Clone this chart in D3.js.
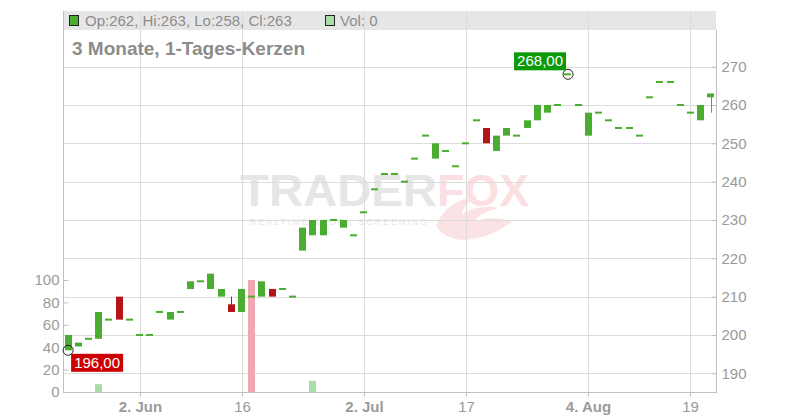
<!DOCTYPE html>
<html><head><meta charset="utf-8">
<script src="https://cdn.jsdelivr.net/npm/d3@7"></script>
<style>body{margin:0;background:#fff}svg{display:block;font-family:"Liberation Sans",Arial,sans-serif}</style>
</head><body><svg id="c" width="800" height="420"></svg>
<script>
const dates = ["2025-05-22","2025-05-23","2025-05-26","2025-05-27","2025-05-28","2025-05-29","2025-05-30",
"2025-06-02","2025-06-03","2025-06-04","2025-06-05","2025-06-06","2025-06-09","2025-06-10","2025-06-11","2025-06-12","2025-06-13",
"2025-06-16","2025-06-17","2025-06-18","2025-06-19","2025-06-20","2025-06-23","2025-06-24","2025-06-25","2025-06-26","2025-06-27",
"2025-06-30","2025-07-01","2025-07-02","2025-07-03","2025-07-04","2025-07-07","2025-07-08","2025-07-09","2025-07-10","2025-07-11",
"2025-07-14","2025-07-15","2025-07-17","2025-07-18","2025-07-21","2025-07-22","2025-07-23","2025-07-24","2025-07-25",
"2025-07-28","2025-07-29","2025-07-30","2025-07-31","2025-08-01","2025-08-04","2025-08-05","2025-08-06","2025-08-07","2025-08-08",
"2025-08-11","2025-08-12","2025-08-13","2025-08-14","2025-08-18","2025-08-19","2025-08-20","2025-08-21"];
const opens  = [196,197,199,199,204,210,204,200,200,206,204,206,212,214,212,210,208,206,210,210,212,212,210,222,226,226,230,228,226,232,238,242,242,240,246,252,246,248,244,250,256,254,248,252,252,254,256,258,260,268,260,252,258,256,254,254,252,262,266,266,260,258,256,262];
const closes = [200,198,199,206,204,204,204,200,200,206,206,206,214,214,216,212,206,212,210,214,210,212,210,228,230,230,230,230,226,232,238,242,242,240,246,252,250,248,244,250,256,250,252,254,252,256,260,260,260,268,260,258,258,256,254,254,252,262,266,266,260,258,260,263];
const highs  = [200,198,199,206,204,210,204,200,200,206,206,206,214,214,216,212,210,212,210,214,212,212,210,228,230,230,230,230,226,232,238,242,242,240,246,252,250,248,244,250,256,254,252,254,252,256,260,260,260,268,260,258,258,256,254,254,252,262,266,266,260,258,260,263];
const lows   = [196,197,199,199,204,204,204,200,200,206,204,206,212,214,212,210,206,206,210,210,210,212,210,222,226,226,230,228,226,232,238,242,242,240,246,252,246,248,244,250,256,250,248,252,252,254,256,258,260,268,260,252,258,256,254,254,252,262,266,266,260,258,256,258];
const volumes= [0,0,0,7,0,0,0,0,0,0,0,0,0,0,0,0,0,0,100,0,0,0,0,0,10,0,0,0,0,0,0,0,0,0,0,0,0,0,0,0,0,0,0,0,0,0,0,0,0,0,0,0,0,0,0,0,0,0,0,0,0,0,0,0];
const tickDates  = ["2025-06-02","2025-06-16","2025-07-02","2025-07-17","2025-08-04","2025-08-19"];
const tickLabels = ["2. Jun","16","2. Jul","17","4. Aug","19"];
const tickBold   = [true,false,true,false,true,false];
const priceTicks = [190,200,210,220,230,240,250,260,270];
const volTicks   = [0,20,40,60,80,100];
const headerText = "Op:262, Hi:263, Lo:258, Cl:263";
const volText = "Vol: 0";
const titleText = "3 Monate, 1-Tages-Kerzen";
const maxLabel = "268,00", minLabel = "196,00";

const L = 63, R = 716, T = 30, B = 392, HT = 11;
const svg = d3.select("#c");
const x = d3.scaleBand().domain(dates).range([L, R]).paddingInner(0.3).paddingOuter(0.15);
const y = d3.scaleLinear().domain([185.12, 279.56]).range([B, T]);
const yv = d3.scaleLinear().domain([0, 100]).range([B, 280]);
const bw = x.bandwidth();
const cx = d => x(d) + bw / 2;
const GREEN = "#4aad31", RED = "#b51419", GRID = "#dcdcdc", AX = "#c0c0c0", TXT = "#9a9a9a";

// header band
svg.append("rect").attr("x", L).attr("y", HT).attr("width", R - L).attr("height", T - HT).attr("fill", "#e6e6e6");

// watermark
const wm = svg.append("g");
wm.append("text").attr("x", 240).attr("y", 206).attr("font-weight", "bold")
  .attr("font-size", 44).attr("textLength", 197).attr("lengthAdjust", "spacingAndGlyphs").attr("fill", "#e6e6e6").text("TRADER");
wm.append("text").attr("x", 437).attr("y", 206).attr("font-weight", "bold")
  .attr("font-size", 44).attr("textLength", 92).attr("lengthAdjust", "spacingAndGlyphs").attr("fill", "#fcdfe2").text("FOX");
wm.append("path").attr("d", "M436,226 Q446,200 478,196 Q462,206 462,214 Q478,204 500,208 Q480,212 474,222 Q492,214 512,222 Q490,238 466,240 Q446,240 436,226 Z")
  .attr("fill", "#fbe3e5");
wm.append("text").attr("x", 250).attr("y", 224.5).attr("font-size", 9).attr("textLength", 177).attr("lengthAdjust", "spacing")
  .attr("fill", "#e6e6e6").text("REALTIME STOCK SCREENING");

// grid
const px = v => Math.round(v) + 0.5;
svg.append("g").selectAll("line").data(priceTicks).join("line")
  .attr("x1", L).attr("x2", R).attr("y1", d => px(y(d))).attr("y2", d => px(y(d))).attr("stroke", GRID);
svg.append("g").selectAll("line").data(tickDates).join("line")
  .attr("x1", d => px(cx(d))).attr("x2", d => px(cx(d))).attr("y1", HT).attr("y2", B).attr("stroke", GRID);

// axes
const ax = svg.append("g").attr("font-family", "'Liberation Sans',Arial,sans-serif");
const gR = ax.append("g").attr("transform", `translate(${R + 0.5},0)`)
  .call(d3.axisRight(y).tickValues(priceTicks).tickSize(-5).tickPadding(5).tickSizeOuter(0));
const gL = ax.append("g").attr("transform", `translate(${L + 0.5},0)`)
  .call(d3.axisLeft(yv).tickValues(volTicks).tickSize(-5).tickPadding(4).tickSizeOuter(0));
const gB = ax.append("g").attr("transform", `translate(0,${B + 0.5})`)
  .call(d3.axisBottom(x).tickValues(tickDates).tickFormat((d, i) => tickLabels[i]).tickSize(4).tickPadding(5).tickSizeOuter(0));
[gR, gL, gB].forEach(g => {
  g.select(".domain").remove();
  g.selectAll(".tick line").attr("stroke", AX);
  g.selectAll(".tick text").attr("fill", TXT).attr("font-size", 15);
});
gB.selectAll(".tick").attr("transform", d => `translate(${px(cx(d))},0)`);
gB.selectAll(".tick text").attr("font-weight", (d, i) => tickBold[i] ? "bold" : "normal");
svg.append("line").attr("x1", L + 0.5).attr("x2", L + 0.5).attr("y1", HT).attr("y2", B).attr("stroke", AX);
svg.append("line").attr("x1", R + 0.5).attr("x2", R + 0.5).attr("y1", T).attr("y2", B).attr("stroke", AX);
svg.append("line").attr("x1", L).attr("x2", R + 1).attr("y1", B + 0.5).attr("y2", B + 0.5).attr("stroke", AX);

// volume bars
svg.append("g").selectAll("rect").data(dates.map((d, i) => ({d, v: volumes[i], up: i === 0 ? true : closes[i] >= closes[i - 1]})).filter(o => o.v > 0))
  .join("rect").attr("x", o => Math.round(x(o.d))).attr("width", Math.round(bw)).attr("y", o => yv(o.v)).attr("height", o => B - yv(o.v))
  .attr("fill", o => o.up ? "#a9dca6" : "#efa8b1");

// candles
const cd = dates.map((d, i) => ({d, o: opens[i], c: closes[i], h: highs[i], l: lows[i]}));
const cg = svg.append("g");
cg.selectAll("line").data(cd.filter(k => k.h > Math.max(k.o, k.c) || k.l < Math.min(k.o, k.c))).join("line")
  .attr("x1", k => px(cx(k.d))).attr("x2", k => px(cx(k.d))).attr("y1", k => y(k.h)).attr("y2", k => y(k.l))
  .attr("stroke", k => k.c >= k.o ? GREEN : RED);
cg.selectAll("rect").data(cd).join("rect")
  .attr("x", k => Math.round(x(k.d))).attr("width", Math.round(bw))
  .attr("y", k => k.o === k.c ? y(k.o) - 1 : y(Math.max(k.o, k.c)))
  .attr("height", k => k.o === k.c ? 2 : Math.abs(y(k.o) - y(k.c)))
  .attr("fill", k => k.c >= k.o ? GREEN : RED);

// extreme markers
const iMax = d3.maxIndex(highs), iMin = d3.minIndex(lows);
const mx = cx(dates[iMax]), my = y(highs[iMax]);
const nx = cx(dates[iMin]), ny = y(lows[iMin]);
svg.append("circle").attr("cx", mx).attr("cy", my).attr("r", 5).attr("fill", "none").attr("stroke", "#222");
svg.append("circle").attr("cx", nx).attr("cy", ny).attr("r", 5).attr("fill", "none").attr("stroke", "#222");
svg.append("rect").attr("x", mx - 54).attr("y", my - 22).attr("width", 52).attr("height", 18).attr("fill", "#0a9a0a");
svg.append("text").attr("x", mx - 28).attr("y", my - 8).attr("text-anchor", "middle").attr("font-size", 15).attr("fill", "#fff").text(maxLabel);
svg.append("rect").attr("x", nx + 3).attr("y", ny + 3.5).attr("width", 52).attr("height", 18).attr("fill", "#cc0000");
svg.append("text").attr("x", nx + 29).attr("y", ny + 18).attr("text-anchor", "middle").attr("font-size", 15).attr("fill", "#fff").text(minLabel);

// header
svg.append("rect").attr("x", 69.5).attr("y", 15.5).attr("width", 9).attr("height", 10).attr("fill", GREEN).attr("stroke", "#222");
svg.append("text").attr("x", 85).attr("y", 26).attr("font-size", 15).attr("fill", "#8c8c8c").text(headerText);
svg.append("rect").attr("x", 325.5).attr("y", 15.5).attr("width", 9).attr("height", 10).attr("fill", "#a9dca6").attr("stroke", "#222");
svg.append("text").attr("x", 340).attr("y", 26).attr("font-size", 15).attr("fill", "#8c8c8c").text(volText);
svg.append("text").attr("x", 72).attr("y", 54.5).attr("font-size", 19).attr("font-weight", "bold").attr("fill", "#8c8c8c").text(titleText);
</script></body></html>
